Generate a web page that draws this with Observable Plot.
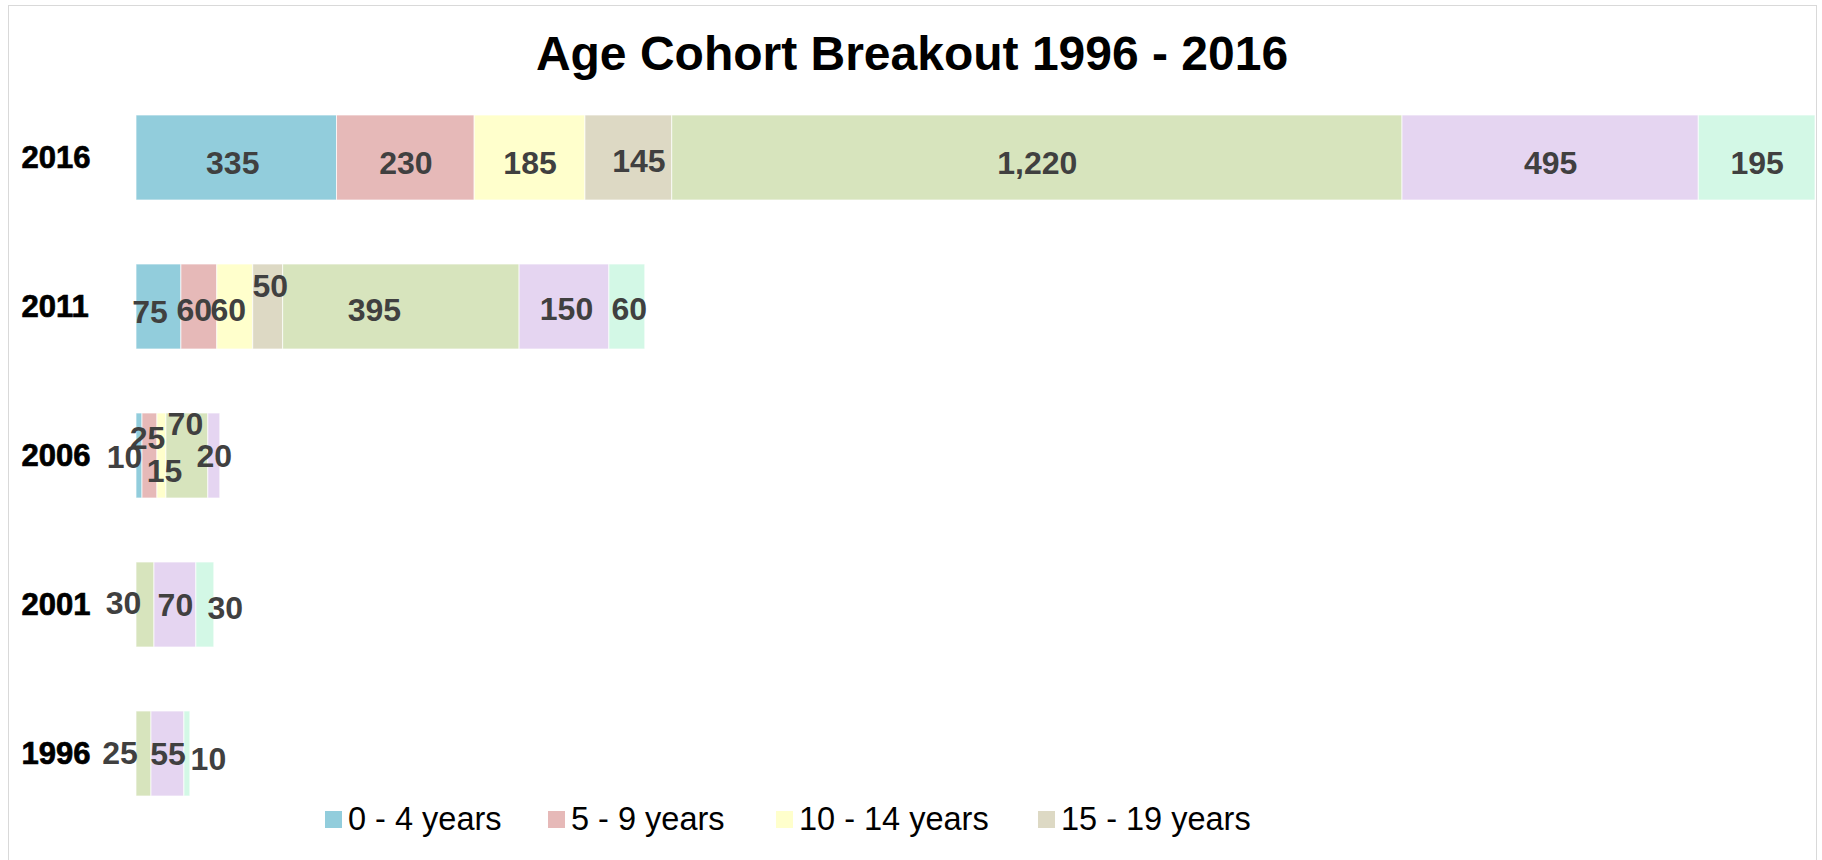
<!DOCTYPE html>
<html><head><meta charset="utf-8">
<script src="https://cdn.jsdelivr.net/npm/d3@7"></script>
<script src="https://cdn.jsdelivr.net/npm/@observablehq/plot@0.6"></script>
<style>
html,body{margin:0;padding:0;background:#fff;}
body{width:1822px;height:860px;position:relative;overflow:hidden;font-family:"Liberation Sans",Arial,sans-serif;}
#frame{position:absolute;left:8px;top:5px;width:1809px;height:900px;border:1px solid #d9d9d9;box-sizing:border-box;}
#chart{position:absolute;left:0;top:0;}
#chart g[aria-label="y-axis tick label"] text{stroke:#000;stroke-width:0.7px;}
#title{position:absolute;left:0;width:1824px;top:30px;text-align:center;font-size:48px;font-weight:bold;line-height:48px;color:#000;}
#legend{position:absolute;left:325px;top:803px;height:32px;display:flex;align-items:center;font-size:32.5px;line-height:32px;color:#000;}
.item{display:flex;align-items:center;}
.sw{width:17px;height:17px;margin-right:6px;flex:none;}
</style></head>
<body>
<div id="frame"></div>
<div id="chart"></div>
<div id="title">Age Cohort Breakout 1996 - 2016</div>
<div id="legend"></div>
<script>
// ---- data ----
const years = ["2016", "2011", "2006", "2001", "1996"];
const cohorts = ["0 - 4 years", "5 - 9 years", "10 - 14 years", "15 - 19 years", "20 - 34 years", "35 - 64 years", "65+ years"];
const legendCohorts = ["0 - 4 years", "5 - 9 years", "10 - 14 years", "15 - 19 years"];
const values2016 = [335, 230, 185, 145, 1220, 495, 195];
const values2011 = [75, 60, 60, 50, 395, 150, 60];
const values2006 = [10, 25, 15, 0, 70, 20, 0];
const values2001 = [0, 0, 0, 0, 30, 70, 30];
const values1996 = [0, 0, 0, 0, 25, 55, 10];

// ---- styles ----
const colors = ["#92CDDC", "#E6B9B8", "#FFFFCC", "#DDD9C4", "#D7E4BD", "#E5D5F1", "#D3F8E6"];
// label nudges in px (dx, dy) reproducing the original label placement
const defaultDy = 5;
const labelNudge = {
  "2016|0 - 4 years": [-4, 6], "2016|5 - 9 years": [0, 6], "2016|10 - 14 years": [0, 6],
  "2016|15 - 19 years": [10, 4], "2016|20 - 34 years": [0, 6], "2016|35 - 64 years": [0, 6], "2016|65+ years": [0, 6],
  "2011|0 - 4 years": [-9, 5.5], "2011|5 - 9 years": [-5, 4], "2011|10 - 14 years": [-7, 4],
  "2011|15 - 19 years": [2, -20.5], "2011|20 - 34 years": [-27, 4], "2011|35 - 64 years": [2, 2.5], "2011|65+ years": [2, 3],
  "2006|0 - 4 years": [-15, 2], "2006|5 - 9 years": [-2.5, -17], "2006|10 - 14 years": [2.5, 16],
  "2006|20 - 34 years": [-2, -31], "2006|35 - 64 years": [0, 1],
  "2001|20 - 34 years": [-22, -1.5], "2001|35 - 64 years": [0, 1], "2001|65+ years": [20, 4],
  "1996|20 - 34 years": [-24, 0], "1996|35 - 64 years": [0, 1], "1996|65+ years": [21, 6]
};

const series = [values2016, values2011, values2006, values2001, values1996];
const rows = [];
years.forEach((yr, i) => {
  let acc = 0;
  cohorts.forEach((c, j) => {
    const v = series[i][j];
    rows.push({year: yr, cohort: c, value: v, x1: acc, x2: acc + v, mid: acc + v / 2});
    acc += v;
  });
});
const shown = rows.filter(d => d.value > 0);
const fmt = d3.format(",");

const labelMarks = shown.map(d => {
  const n = labelNudge[d.year + "|" + d.cohort] || [0, defaultDy];
  return Plot.text([d], {
    x: "mid", y: "year", text: r => fmt(r.value),
    dx: n[0], dy: n[1], fontSize: 32, fontWeight: "bold", fill: "#404040"
  });
});

const chart = Plot.plot({
  width: 1822,
  height: 860,
  marginLeft: 136,
  marginRight: 7,
  marginTop: 81.8,
  marginBottom: 31.2,
  style: {fontFamily: "'Liberation Sans', Arial, sans-serif", background: "transparent", overflow: "visible"},
  x: {domain: [0, 2805], axis: null},
  y: {domain: years, paddingInner: 0.431, paddingOuter: 0.2155, label: null},
  color: {domain: cohorts, range: colors},
  marks: [
    Plot.barX(shown, {x1: "x1", x2: "x2", y: "year", fill: "cohort", stroke: "#ffffff", strokeWidth: 1, strokeOpacity: 0.7}),
    ...labelMarks,
    Plot.axisY({tickSize: 0, tickPadding: 115, textAnchor: "start", fontSize: 31, fontWeight: "bold", fill: "#000", label: null})
  ]
});
document.getElementById("chart").appendChild(chart);

// legend (only the first four entries are visible in the original)
const slotWidths = [223, 228, 262, null];
const legend = document.getElementById("legend");
legendCohorts.forEach((c, i) => {
  const item = document.createElement("div");
  item.className = "item";
  if (slotWidths[i]) item.style.width = slotWidths[i] + "px";
  const sw = document.createElement("span");
  sw.className = "sw";
  sw.style.background = colors[cohorts.indexOf(c)];
  const t = document.createElement("span");
  t.textContent = c;
  item.appendChild(sw);
  item.appendChild(t);
  legend.appendChild(item);
});
</script>
</body></html>
